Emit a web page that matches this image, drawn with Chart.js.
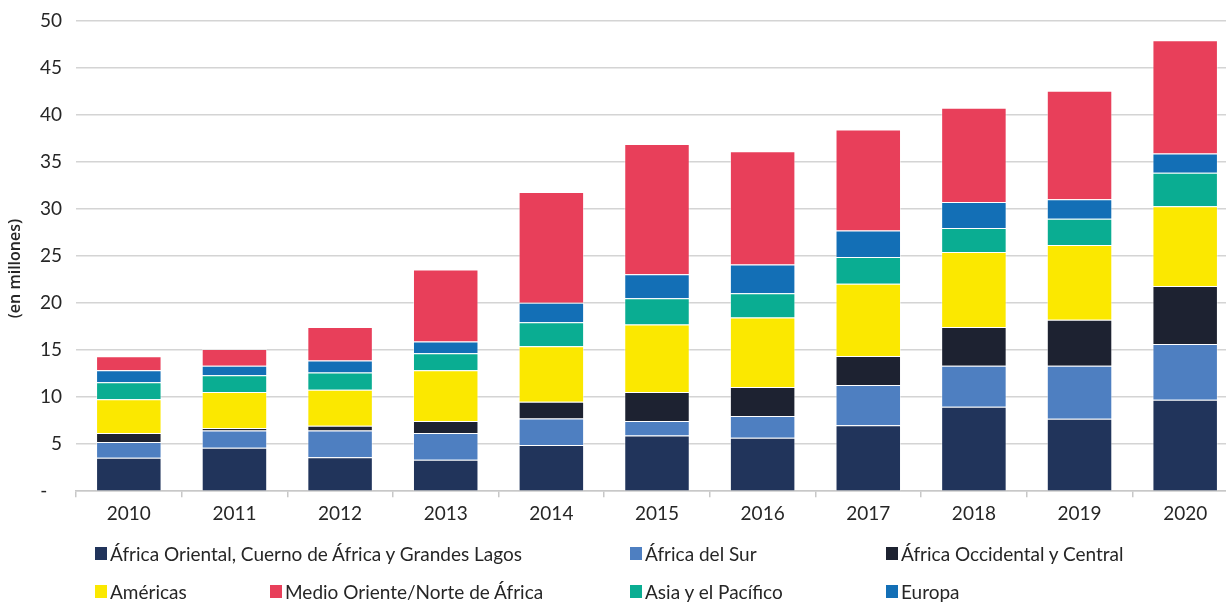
<!DOCTYPE html>
<html lang="es">
<head>
<meta charset="utf-8">
<script src="https://cdn.jsdelivr.net/npm/chart.js@4"></script>
<style>
  html, body { margin: 0; padding: 0; background: #fff; }
  #wrap { position: relative; width: 1226px; height: 603px; overflow: hidden; }
  #legend { position: absolute; left: 0; top: 0; width: 1226px; height: 603px; pointer-events: none; }
  .item { position: absolute; display: flex; align-items: center; font-family: Lato, sans-serif; font-size: 19px; color: #262626; white-space: nowrap; }
  .box { width: 12px; height: 13px; margin-right: 3px; }
</style>
</head>
<body>
<div id="wrap">
  <canvas id="chart" width="1242" height="603"></canvas>
  <div id="legend"></div>
</div>
<script>
// Datos (en millones)
const years = ['2010', '2011', '2012', '2013', '2014', '2015', '2016', '2017', '2018', '2019', '2020'];

const africaOriental   = [3.55, 4.61, 3.62, 3.34, 4.90, 5.93, 5.68, 7.00, 8.98, 7.71, 9.73];
const africaSur        = [1.67, 1.85, 2.84, 2.84, 2.84, 1.53, 2.31, 4.29, 4.37, 5.64, 5.93];
const africaOccidental = [0.96, 0.25, 0.50, 1.28, 1.78, 3.09, 3.09, 3.09, 4.12, 4.87, 6.15];
const americas         = [3.59, 3.84, 3.83, 5.40, 5.89, 7.17, 7.39, 7.67, 7.96, 7.96, 8.48];
const asiaPacifico     = [1.81, 1.77, 1.82, 1.81, 2.56, 2.81, 2.59, 2.85, 2.56, 2.80, 3.56];
const europa           = [1.28, 1.03, 1.28, 1.24, 2.06, 2.55, 3.05, 2.83, 2.77, 2.06, 2.05];
const medioOriente     = [1.49, 1.78, 3.58, 7.67, 11.79, 13.85, 12.04, 10.73, 10.01, 11.54, 12.04];

const yTicks = [0, 5, 10, 15, 20, 25, 30, 35, 40, 45, 50];

// orden de apilado (de abajo hacia arriba)
const series = [
    { label: 'África Oriental, Cuerno de África y Grandes Lagos', data: africaOriental, color: '#21345b' },
    { label: 'África del Sur', data: africaSur, color: '#4e7fc1' },
    { label: 'África Occidental y Central', data: africaOccidental, color: '#1d2231' },
    { label: 'Américas', data: americas, color: '#fbe800' },
    { label: 'Asia y el Pacífico', data: asiaPacifico, color: '#0aad92' },
    { label: 'Europa', data: europa, color: '#136fb6' },
    { label: 'Medio Oriente/Norte de África', data: medioOriente, color: '#e83f5a' }
];

// leyenda: índice de serie y posición
const legendLayout = [
    [0, 95, 547], [1, 630, 547], [2, 886, 547],
    [3, 95, 585], [6, 270, 585], [4, 630, 585], [5, 886, 585]
];

const ctx = document.getElementById('chart').getContext('2d');
const chart = new Chart(ctx, {
    type: 'bar',
    data: {
        labels: years,
        datasets: series.map(s => ({
            label: s.label,
            data: s.data,
            backgroundColor: s.color,
            borderColor: 'rgba(255,255,255,0.45)',
            borderWidth: 1,
            categoryPercentage: 1,
            barPercentage: 0.62
        }))
    },
    options: {
        responsive: false,
        animation: false,
        devicePixelRatio: 1,
        layout: { padding: { top: 21, right: 4, bottom: 73, left: 0 } },
        plugins: {
            legend: { display: false },
            tooltip: { enabled: false }
        },
        scales: {
            x: {
                stacked: true,
                offset: true,
                grid: {
                    offset: true,
                    drawOnChartArea: false,
                    color: '#c8c8c8',
                    lineWidth: 1.5,
                    tickLength: 6
                },
                border: { color: '#c8c8c8', width: 1.5 },
                ticks: {
                    color: '#262626',
                    font: { family: 'Lato', size: 19 },
                    padding: 5
                }
            },
            y: {
                stacked: true,
                min: 0,
                max: 50,
                afterBuildTicks: scale => { scale.ticks = yTicks.map(v => ({ value: v })); },
                afterFit: scale => {
                    scale.width = 76;
                    scale.paddingTop = 0;
                    scale.paddingBottom = 0;
                },
                grid: { color: '#d4d4d4', lineWidth: 1.5, drawTicks: false },
                border: { display: false },
                ticks: {
                    color: '#262626',
                    font: { family: 'Lato', size: 19 },
                    padding: 14,
                    callback: v => v === 0 ? '-   ' : v
                },
                title: {
                    display: true,
                    text: '(en millones)      ',
                    color: '#262626',
                    font: { family: 'Open Sans', size: 16, weight: '600' },
                    padding: { top: 6, bottom: 0 }
                }
            }
        }
    }
});

// leyenda en HTML
const legendEl = document.getElementById('legend');
legendLayout.forEach(([i, x, y]) => {
    const item = document.createElement('div');
    item.className = 'item';
    item.style.left = x + 'px';
    item.style.top = (y - 5) + 'px';
    item.innerHTML = '<span class="box" style="background:' + series[i].color + '"></span>' + series[i].label;
    legendEl.appendChild(item);
});
</script>
</body>
</html>
